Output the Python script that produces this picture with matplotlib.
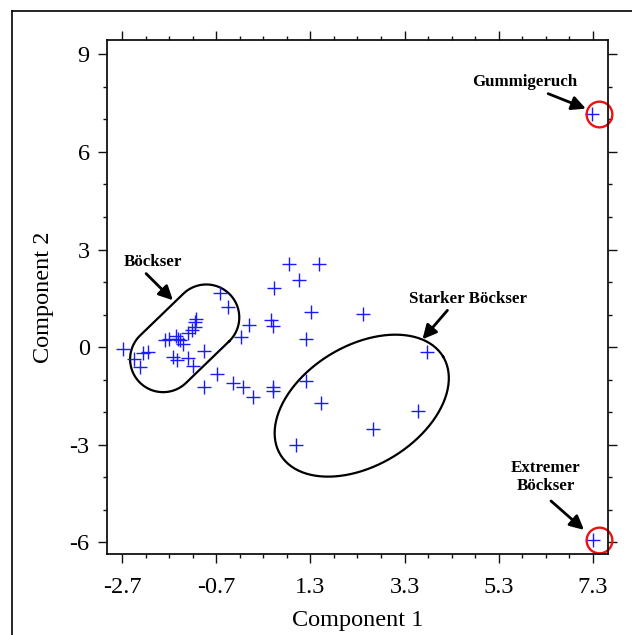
import numpy as np
import matplotlib
matplotlib.use("Agg")
import matplotlib.pyplot as plt
from matplotlib.lines import Line2D
from matplotlib.ticker import MultipleLocator, FixedLocator

plt.rcParams["font.family"] = ["Liberation Serif", "DejaVu Serif"]

W, H, DPI = 632, 635, 100
BLUE, RED, INK = "#1a1aff", "#ee1111", "#111111"

# ── data ──────────────────────────────────────────────────────────────────────
comp1 = [-2.69, -2.44, -2.32, -2.26, -2.14, -1.79, -1.71, -1.55, -1.52, -1.47,
         -1.41, -1.62, -1.54, -1.29, -1.20, -1.31, -1.22, -1.16, -1.15, -1.13,
         -0.97, -0.61, -0.45, 0.00, -0.17, -0.68, -0.96, -0.34, -0.13, 0.09,
         0.50, 0.50, 0.46, 0.50, 0.52, 0.84, 1.05, 1.49, 1.31, 2.41,
         1.21, 3.78, 1.21, 1.53, 3.59, 2.63, 0.99, 7.29, 7.31]
comp2 = [-0.06, -0.37, -0.62, -0.17, -0.14, 0.22, 0.26, 0.35, 0.26, 0.22,
         0.09, -0.30, -0.40, -0.32, -0.57, 0.42, 0.52, 0.62, 0.77, 0.86,
         -0.11, 1.67, 1.24, 0.68, 0.32, -0.83, -1.24, -1.11, -1.24, -1.54,
         -1.24, -1.34, 0.83, 0.65, 1.83, 2.56, 2.05, 2.56, 1.08, 1.03,
         0.26, -0.16, -1.05, -1.71, -1.95, -2.51, -3.02, 7.15, -5.92]

xticks = [-2.7, -0.7, 1.3, 3.3, 5.3, 7.3]
yticks = [-6, -3, 0, 3, 6, 9]
xlim, ylim = (-3.02, 7.62), (-6.36, 9.44)

# labels: text, text position, arrow tail, arrow tip
notes = [
    ("Böckser", (-2.04, 2.61), (-2.19, 2.26), (-1.62, 1.44)),
    ("Starker Böckser", (4.64, 1.48), (4.21, 1.13), (3.68, 0.24)),
    ("Gummigeruch", (5.86, 8.14), (6.35, 7.79), (7.15, 7.33)),
    ("Extremer\nBöckser", (6.30, -4.00), (6.41, -4.73), (7.11, -5.62)),
]
outlier_x = [7.42, 7.42]
outlier_y = [7.15, -5.92]

# ── figure ────────────────────────────────────────────────────────────────────
fig = plt.figure(figsize=(W / DPI, H / DPI), dpi=DPI, facecolor="white")
left, right, top, bottom = 107 / W, 608 / W, 1 - 40 / H, 1 - 554 / H
ax = fig.add_axes([left, bottom, right - left, top - bottom])
ax.set_xlim(*xlim)
ax.set_ylim(*ylim)

# px per data unit, used to draw the hand-drawn looking outlines
sx = (right - left) * W / (xlim[1] - xlim[0])
sy = (top - bottom) * H / (ylim[1] - ylim[0])

def outline(cx, cy, u, v, ang):
    a = np.deg2rad(ang)
    pu = u * np.cos(a) - v * np.sin(a)
    pv = u * np.sin(a) + v * np.cos(a)
    return cx + pu / sx, cy + pv / sy

# capsule round the Böckser group
t1 = np.linspace(-np.pi / 2, np.pi / 2, 60)
t2 = np.linspace(np.pi / 2, 3 * np.pi / 2, 60)
half, rad = 30, 33
u = np.concatenate([half + rad * np.cos(t1), -half + rad * np.cos(t2), [half]])
v = np.concatenate([rad * np.sin(t1), rad * np.sin(t2), [-rad]])
cxs, cys = outline(-1.37, 0.27, u, v, 44)
ax.plot(cxs, cys, color="black", lw=1.6)

# ellipse round the Starker Böckser group
t = np.linspace(0, 2 * np.pi, 200)
exs, eys = outline(2.39, -1.80, 95 * np.cos(t), 60 * np.sin(t), 31)
ax.plot(exs, eys, color="black", lw=1.6)

ax.plot(comp1, comp2, ls="none", marker="+", ms=9.5, mew=1.0, color=BLUE)
ax.plot(outlier_x, outlier_y, ls="none", marker="o", ms=18.5, mfc="none",
        mec=RED, mew=1.7, clip_on=False)

for txt, xy_t, xy_a, xy_b in notes:
    ax.text(*xy_t, txt, ha="center", va="center", fontsize=12.2,
            fontweight="bold", linespacing=1.2)
    ax.annotate("", xy=xy_b, xytext=xy_a,
                arrowprops=dict(arrowstyle="-|>", lw=2.0, color="black",
                                mutation_scale=21, shrinkA=0, shrinkB=0))

ax.xaxis.set_major_locator(FixedLocator(xticks))
ax.xaxis.set_minor_locator(MultipleLocator(0.5, offset=0.3))
ax.yaxis.set_major_locator(FixedLocator(yticks))
ax.yaxis.set_minor_locator(MultipleLocator(1))
ax.set_xticklabels([f"{v:g}" for v in xticks])
ax.set_yticklabels([f"{v:g}" for v in yticks])
ax.tick_params(which="both", direction="out", top=True, right=True,
               color=INK, width=1.0)
ax.tick_params(which="major", length=6.5, labelsize=17.5, pad=6)
ax.tick_params(axis="x", which="major", pad=10)
ax.tick_params(which="minor", length=3.2)
for sp in ax.spines.values():
    sp.set_linewidth(1.3)
    sp.set_color(INK)

ax.set_xlabel("Component 1", fontsize=17.5, labelpad=9)
ax.set_ylabel("Component 2", fontsize=17.5, labelpad=11)

# outer frame (left and top edges visible)
fx, fy = 12 / W, 1 - 11 / H
fig.add_artist(Line2D([fx, fx], [0, fy], color="black", lw=1.2))
fig.add_artist(Line2D([fx, 1], [fy, fy], color="black", lw=1.2))

fig.savefig("out.png", dpi=DPI, facecolor="white")
